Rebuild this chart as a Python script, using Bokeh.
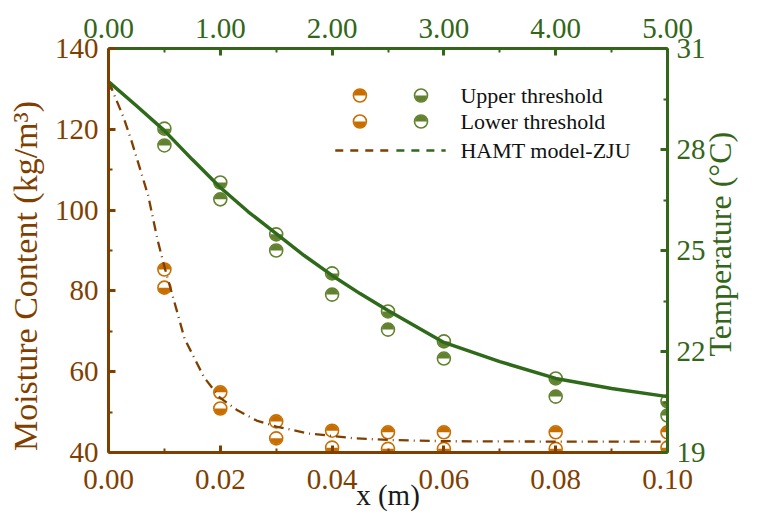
import math
from bokeh.plotting import figure
from bokeh.models import (Range1d, LinearAxis, FixedTicker, PrintfTickFormatter, Label)
from bokeh.embed import file_html
from bokeh.resources import INLINE

# ---------------- data ----------------
x_pts = [0.01, 0.02, 0.03, 0.04, 0.05, 0.06, 0.08, 0.10]
mc_upper = [85.3, 54.9, 47.7, 45.4, 45.0, 45.0, 45.0, 45.0]
mc_lower = [80.8, 50.9, 43.5, 41.2, 40.9, 40.9, 40.9, 41.2]
temp_upper = [28.62, 27.02, 25.48, 24.32, 23.19, 22.30, 21.20, 20.52]
temp_lower = [28.12, 26.52, 25.00, 23.69, 22.65, 21.79, 20.66, 20.10]

model_x_mc = [0, 0.0005, 0.0027, 0.0041, 0.0071, 0.0088, 0.0100, 0.0123, 0.0136, 0.0171,
              0.0199, 0.0229, 0.0265, 0.030, 0.0358, 0.0441, 0.05, 0.06, 0.08, 0.10]
model_mc = [131.8, 130.3, 122.9, 117.2, 103.6, 92.5, 86.0, 74.7, 68.2, 58.6,
            53.6, 50.6, 47.9, 46.4, 44.7, 43.5, 43.1, 42.8, 42.7, 42.7]

model_x_t = [0, 0.005, 0.01, 0.015, 0.02, 0.025, 0.03, 0.035, 0.04, 0.045, 0.05,
             0.06, 0.07, 0.08, 0.09, 0.10]
model_t = [30.02, 29.3, 28.56, 27.7, 26.87, 26.15, 25.5, 24.85, 24.26, 23.72, 23.22,
           22.27, 21.70, 21.20, 20.9, 20.66]

bottom_ticks = [0, 0.02, 0.04, 0.06, 0.08, 0.10]
bottom_minor = [0.01, 0.03, 0.05, 0.07, 0.09]
top_ticks = [0, 1, 2, 3, 4, 5]
top_minor = [0.5, 1.5, 2.5, 3.5, 4.5]
left_ticks = [40, 60, 80, 100, 120, 140]
left_minor = [50, 70, 90, 110, 130]
right_ticks = [19, 22, 25, 28, 31]
right_minor = [20.5, 23.5, 26.5, 29.5]

legend_labels = ["Upper threshold", "Lower threshold", "HAMT model-ZJU"]
x_label = "x (m)"
left_label = "Moisture Content (kg/m³)"
right_label = "Temperature (°C)"

# ---------------- styles ----------------
BROWN = "#7f3f00"
ORANGE = "#c86e00"
GREEN_AX = "#336619"
GREEN_LINE = "#2e6a1a"
GREEN_MK = "#62822f"
FONT = "Liberation Serif"
NB = "\u00a0"

p = figure(width=758, height=521, output_backend="svg", toolbar_location=None,
           x_range=Range1d(0, 0.1), y_range=Range1d(40, 140),
           min_border_left=108, min_border_right=81, min_border_top=48,
           min_border_bottom=69, x_axis_location=None, y_axis_location=None)
p.outline_line_color = None
p.grid.visible = False
p.background_fill_color = "white"
p.border_fill_color = "white"
p.extra_y_ranges = {"temp": Range1d(19, 31)}
p.extra_x_ranges = {"top": Range1d(0, 5)}


def style_axis(ax, color, standoff):
    ax.axis_line_color = color
    ax.axis_line_width = 3
    ax.major_tick_line_color = color
    ax.major_tick_line_width = 3
    ax.major_tick_in = 7
    ax.major_tick_out = 0
    ax.minor_tick_line_color = color
    ax.minor_tick_line_width = 2
    ax.minor_tick_in = 4
    ax.minor_tick_out = 0
    ax.major_label_text_color = color
    ax.major_label_text_font = FONT
    ax.major_label_text_font_size = "29px"
    ax.major_label_standoff = standoff
    ax.axis_label_text_font = FONT
    ax.axis_label_text_font_style = "normal"


bottom = LinearAxis(ticker=FixedTicker(ticks=bottom_ticks, minor_ticks=bottom_minor),
                    formatter=PrintfTickFormatter(format="%.2f"))
style_axis(bottom, BROWN, 17)
bottom.axis_label = x_label
bottom.axis_label_text_font_size = "29px"
bottom.axis_label_text_color = "#1a1a1a"
bottom.axis_label_standoff = -13
p.add_layout(bottom, "below")

left = LinearAxis(ticker=FixedTicker(ticks=left_ticks, minor_ticks=left_minor),
                  formatter=PrintfTickFormatter(format="%d"))
style_axis(left, BROWN, 10)
left.axis_label = left_label + NB * 6
left.axis_label_text_font_size = "34px"
left.axis_label_text_color = BROWN
left.axis_label_standoff = 8
p.add_layout(left, "left")

top = LinearAxis(x_range_name="top", ticker=FixedTicker(ticks=top_ticks, minor_ticks=top_minor),
                 formatter=PrintfTickFormatter(format="%.2f"))
style_axis(top, GREEN_AX, 11)
p.add_layout(top, "above")

right = LinearAxis(y_range_name="temp", ticker=FixedTicker(ticks=right_ticks, minor_ticks=right_minor),
                   formatter=PrintfTickFormatter(format="%d"))
style_axis(right, GREEN_AX, 9)
right.axis_label = NB * 12 + right_label
right.axis_label_text_font_size = "32px"
right.axis_label_text_color = GREEN_AX
right.axis_label_standoff = 11
right.axis_label_orientation = math.pi / 2
right.axis_label_align = "start"
p.add_layout(right, "right")


def half_marker(xs, ys, color, top_filled, y_range_name="default"):
    p.scatter(xs, ys, size=13, marker="circle", fill_color="white", line_color=color,
              line_width=1.6, y_range_name=y_range_name)
    a0, a1 = (0, math.pi) if top_filled else (math.pi, 2 * math.pi)
    p.wedge(xs, ys, radius=6.0, radius_units="screen", start_angle=a0, end_angle=a1,
            fill_color=color, line_color=None, y_range_name=y_range_name)


half_marker(x_pts, mc_upper, ORANGE, True)
half_marker(x_pts, mc_lower, ORANGE, False)
half_marker(x_pts, temp_upper, GREEN_MK, False, "temp")
half_marker(x_pts, temp_lower, GREEN_MK, True, "temp")

p.line(model_x_mc, model_mc, line_color=BROWN, line_width=2.3, line_dash="10 5 1 5")
p.line(model_x_t, model_t, line_color=GREEN_LINE, line_width=3.5, y_range_name="temp")

# ---------------- manual legend (reference-pixel positions -> data) ----------------
REF_L, REF_T, REF_W, REF_H = 110, 48, 567, 404


def fx(px):
    return (px - REF_L) / REF_W * 0.1


def fy(py):
    return 140 - (py - REF_T) / REF_H * 100


half_marker([fx(365)], [fy(95)], ORANGE, True)
half_marker([fx(427)], [fy(95)], GREEN_MK, False)
half_marker([fx(365)], [fy(121)], ORANGE, False)
half_marker([fx(427)], [fy(121)], GREEN_MK, True)
p.line([fx(340), fx(394)], [fy(150), fy(150)], line_color=BROWN, line_width=2.3, line_dash="8 7")
p.line([fx(402), fx(452)], [fy(150), fy(150)], line_color=GREEN_LINE, line_width=2.3, line_dash="8 7")
for lab, py in zip(legend_labels, [95, 121, 150]):
    p.add_layout(Label(x=fx(467), y=fy(py), text=lab, text_align="left", text_baseline="middle",
                       text_font=FONT, text_font_size="22px", text_color="#111111"))

open("out.html", "w").write(file_html(p, INLINE))
